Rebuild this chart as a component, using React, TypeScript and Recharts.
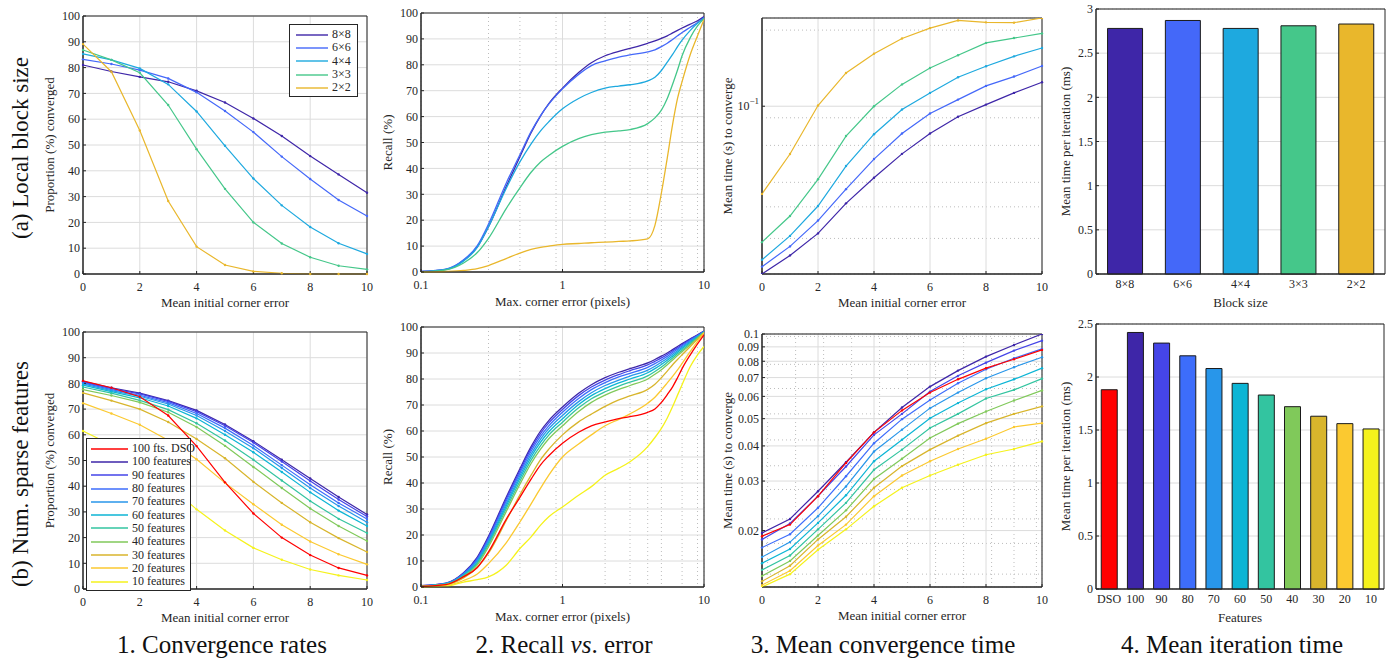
import React from 'react';
import {
  LineChart, Line, BarChart, Bar, Cell, XAxis, YAxis, CartesianGrid, ReferenceArea, Legend,
} from 'recharts';

const FONT = '"Liberation Serif", "Times New Roman", serif';
const INK = '#262626';
const MAJOR = '#dcdcdc';
const MINOR = '#bdbdbd';

// ---------- shared x values ----------
const ERR_X = [0, 1, 2, 3, 4, 5, 6, 7, 8, 9, 10];
const ERR_TICKS = [0, 2, 4, 6, 8, 10];
const RECALL_X = [0.1, 0.15, 0.2, 0.25, 0.3, 0.4, 0.5, 0.6, 0.7, 0.8, 1, 1.3, 1.6, 2, 2.5, 3, 4, 4.5, 5, 5.5, 6, 6.5, 7, 8, 9, 10];
const RECALL_TICKS_X = [0.1, 1, 10];
const RECALL_MINOR_X = [0.2, 0.3, 0.4, 0.5, 0.6, 0.7, 0.8, 0.9, 2, 3, 4, 5, 6, 7, 8, 9];
const PCT_TICKS = [0, 10, 20, 30, 40, 50, 60, 70, 80, 90, 100];

// ---------- (a) block size ----------
const BLOCK_LABELS = ['8×8', '6×6', '4×4', '3×3', '2×2'];
const BLOCK_COLORS = ['#3e26a8', '#4468f9', '#1ea9df', '#45c78a', '#e9b72c'];

const convBlock8 = [81, 78.5, 76.4, 74.5, 71, 66.5, 60.3, 53.5, 45.7, 38.6, 31.5];
const convBlock6 = [83.2, 81.4, 79, 75.8, 70.4, 63.2, 55, 45.5, 36.8, 28.7, 22.5];
const convBlock4 = [85.3, 83, 79.7, 73.5, 63, 49.7, 37, 26.6, 18.2, 11.9, 7.8];
const convBlock3 = [86.8, 83, 78, 65.5, 48.4, 33, 20, 11.8, 6.5, 3.2, 1.8];
const convBlock2 = [89.1, 78.4, 55.6, 28.3, 10.6, 3.5, 1, 0.3, 0, 0, 0];

const recallBlock8 = [0.2, 1, 4.5, 9.7, 17.5, 33, 44.5, 53.8, 60.3, 65, 71, 77, 80.8, 83.5, 85.2, 86.3, 88.3, 89.2, 90.2, 91.2, 92.3, 93.3, 94.2, 95.7, 97, 98.6];
const recallBlock6 = [0.2, 1.1, 4.7, 10.2, 18.5, 34.3, 45.3, 54.2, 60.4, 64.8, 70.7, 76.3, 79.7, 81.5, 83, 83.8, 85, 85.8, 87, 88.3, 89.8, 91.2, 92.5, 94.5, 96.3, 98.3];
const recallBlock4 = [0.1, 1, 4.2, 9.5, 17.5, 32.3, 42.5, 49.5, 54.5, 58, 63, 67, 69.3, 71, 71.8, 72.3, 73.8, 75.2, 77.8, 81, 84, 87, 89.5, 93.3, 96, 98];
const recallBlock3 = [0, 0.8, 3.5, 7.5, 13, 24.5, 32.5, 38.5, 42.5, 45, 48.5, 51.5, 53, 54, 54.5, 55, 57.3, 59.5, 62.5, 67, 72.5, 78, 83.5, 90.5, 95, 97.8];
const recallBlock2 = [0, 0.2, 0.6, 1.3, 2.5, 5.2, 7.3, 8.7, 9.5, 10, 10.7, 11, 11.3, 11.5, 11.8, 12, 12.8, 18, 30.5, 44, 57, 67, 73.5, 84, 91.2, 97.5];

const timeBlock8 = [0.0217, 0.0257, 0.0314, 0.0413, 0.0521, 0.0648, 0.078, 0.0908, 0.1015, 0.1129, 0.1244];
const timeBlock6 = [0.0232, 0.0279, 0.0353, 0.047, 0.0618, 0.078, 0.0936, 0.1062, 0.1203, 0.131, 0.1443];
const timeBlock4 = [0.0247, 0.0307, 0.0403, 0.058, 0.0775, 0.097, 0.1129, 0.1302, 0.1439, 0.1575, 0.1699];
const timeBlock3 = [0.029, 0.0368, 0.0514, 0.0762, 0.1, 0.122, 0.1417, 0.159, 0.178, 0.186, 0.194];
const timeBlock2 = [0.045, 0.0647, 0.1006, 0.1354, 0.1614, 0.1854, 0.2037, 0.2185, 0.2146, 0.214, 0.2233];
const TIME_A_DOMAIN = [0.0217, 0.2233];
const TIME_A_TICKS = [0.1];
const TIME_A_MINOR = [0.03, 0.04, 0.05, 0.06, 0.07, 0.08, 0.09, 0.2];

const iterBlock = [2.78, 2.87, 2.78, 2.81, 2.83];
const ITER_A_TICKS = [0, 0.5, 1, 1.5, 2, 2.5, 3];
const ITER_A_MINOR = [0.1, 0.2, 0.3, 0.4, 0.6, 0.7, 0.8, 0.9, 1.1, 1.2, 1.3, 1.4, 1.6, 1.7, 1.8, 1.9, 2.1, 2.2, 2.3, 2.4, 2.6, 2.7, 2.8, 2.9];

// ---------- (b) number of features ----------
const FEATURE_TICKS = ['DSO', '100', '90', '80', '70', '60', '50', '40', '30', '20', '10'];
const FEATURE_LEGEND = ['100 fts. DSO', '100 features', '90 features', '80 features', '70 features', '60 features', '50 features', '40 features', '30 features', '20 features', '10 features'];
const FEATURE_COLORS = ['#ff0000', '#3e26a8', '#4545e8', '#3d6dfb', '#2896ea', '#0cb5d5', '#33c4a0', '#80c95a', '#d8b52c', '#fbc930', '#f5f21c'];

const convFdso = [81, 78.3, 74.8, 67.5, 55.6, 41.5, 29.4, 20, 13.2, 8.2, 5.3];
const convF100 = [80.8, 78.3, 76.2, 73.3, 69.5, 64, 57.5, 50.3, 43, 35.8, 29];
const convF90 = [80.5, 78, 75.9, 73, 69, 63.5, 57, 49.6, 42, 34.8, 28.2];
const convF80 = [80.2, 77.6, 75.4, 72.5, 68.3, 62.6, 55.8, 48.2, 40.6, 33.5, 27.2];
const convF70 = [79.8, 77.2, 75, 72, 67.5, 61.5, 54.8, 47.1, 39.3, 32.3, 26];
const convF60 = [79.3, 76.8, 74.4, 71.2, 66.4, 60, 53.2, 45.5, 37.6, 30.5, 24.5];
const convF50 = [78.6, 76.2, 73.4, 69.8, 64.5, 57.8, 50.3, 42.2, 34.2, 27.3, 21.8];
const convF40 = [77.6, 75.3, 72.6, 68.8, 63, 55.7, 47.5, 39.3, 31.3, 24.5, 18.7];
const convF30 = [76.3, 73.3, 70, 65, 58.4, 50.9, 41.7, 33.5, 26, 19.8, 14.4];
const convF20 = [72.3, 68.3, 63.9, 57.9, 50.5, 41.3, 33, 25, 18.5, 13.5, 9.6];
const convF10 = [61.5, 56, 49.5, 40.5, 31, 22.8, 16, 11.4, 7.6, 5.3, 3.5];

const recallFdso = [0.2, 0.9, 4, 7.5, 13.5, 26, 34.5, 41.5, 47, 50.5, 55.3, 59.5, 62, 63.5, 64.8, 65.5, 67.2, 68.5, 71, 74, 77, 80.5, 84, 89.3, 93.5, 97];
const recallF100 = [0.5, 1.5, 5.5, 11.5, 19.5, 34.5, 45.5, 54, 60, 64, 69.2, 74.5, 77.8, 80.5, 82.6, 84, 86.2, 87.5, 88.8, 90, 91.3, 92.5, 93.6, 95.5, 97, 98.4];
const recallF90 = [0.5, 1.4, 5.3, 11.1, 19, 33.8, 44.7, 53.2, 59.1, 63.1, 68.3, 73.6, 76.9, 79.6, 81.7, 83.2, 85.4, 86.8, 88.1, 89.4, 90.8, 92, 93.2, 95.2, 96.8, 98.3];
const recallF80 = [0.4, 1.4, 5.1, 10.7, 18.4, 33, 43.8, 52.2, 58, 62, 67.2, 72.5, 75.9, 78.6, 80.8, 82.2, 84.5, 85.9, 87.3, 88.7, 90.2, 91.5, 92.7, 94.9, 96.6, 98.3];
const recallF70 = [0.4, 1.3, 4.8, 10.2, 17.7, 32, 42.8, 51.1, 56.9, 60.9, 66, 71.3, 74.7, 77.5, 79.6, 81.1, 83.4, 84.9, 86.5, 88, 89.5, 90.9, 92.2, 94.5, 96.4, 98.2];
const recallF60 = [0.4, 1.2, 4.6, 9.6, 17, 31.1, 41.8, 50, 55.7, 59.7, 64.7, 70.2, 73.6, 76.3, 78.5, 80, 82.4, 84, 85.6, 87.2, 88.8, 90.3, 91.7, 94.1, 96.2, 98.1];
const recallF50 = [0.3, 1.1, 4.3, 9.1, 16.3, 30.1, 40.7, 48.8, 54.4, 58.4, 63.4, 68.9, 72.4, 75.1, 77.3, 78.8, 81.2, 82.9, 84.6, 86.4, 88.1, 89.7, 91.1, 93.7, 96, 98];
const recallF40 = [0.3, 1, 4, 8.5, 15.5, 29, 39.5, 47.5, 53, 57, 62, 67.5, 71, 73.8, 76, 77.5, 80, 81.8, 83.6, 85.5, 87.3, 89, 90.5, 93.2, 95.7, 97.9];
const recallF30 = [0.2, 0.9, 3.5, 7.5, 13, 25.5, 35.5, 43, 49, 53, 58.5, 63.5, 66.5, 69.5, 72, 73.5, 76, 78, 80.5, 83, 85.5, 87.5, 89.3, 92.5, 95.3, 97.8];
const recallF20 = [0.1, 0.6, 2.5, 5, 9, 17, 25, 32, 38, 43, 50, 55, 58.5, 62, 64.5, 66.6, 70.7, 73, 75.8, 78.5, 81, 83.5, 86, 90.6, 94.5, 97.7];
const recallF10 = [0, 0.3, 1.9, 2.8, 3.9, 8.4, 14.8, 19.3, 23.8, 27, 30.8, 35.3, 38.6, 43, 45.7, 48.2, 54, 57.5, 61, 65, 69.4, 73.8, 77.8, 84.8, 89.3, 92.5];

const timeFdso = [0.0191, 0.021, 0.0265, 0.0348, 0.0447, 0.0535, 0.0619, 0.069, 0.0756, 0.0813, 0.0878];
const timeF100 = [0.0196, 0.022, 0.0276, 0.035, 0.0447, 0.0548, 0.065, 0.0741, 0.0831, 0.0914, 0.1];
const timeF90 = [0.0186, 0.0212, 0.0265, 0.0338, 0.0438, 0.052, 0.0624, 0.071, 0.0791, 0.0873, 0.0947];
const timeF80 = [0.0174, 0.0194, 0.0241, 0.0312, 0.0409, 0.0498, 0.0583, 0.0668, 0.0749, 0.082, 0.0885];
const timeF70 = [0.0161, 0.0182, 0.0225, 0.0287, 0.0382, 0.0457, 0.0545, 0.0619, 0.0696, 0.0762, 0.0827];
const timeF60 = [0.0153, 0.0172, 0.0213, 0.0267, 0.0353, 0.0421, 0.0502, 0.0568, 0.0636, 0.069, 0.0756];
const timeF50 = [0.0145, 0.0163, 0.0202, 0.0251, 0.0329, 0.0388, 0.0463, 0.052, 0.059, 0.0633, 0.0694];
const timeF40 = [0.0138, 0.0156, 0.0192, 0.0236, 0.0305, 0.036, 0.0427, 0.048, 0.053, 0.058, 0.063];
const timeF30 = [0.0132, 0.015, 0.0186, 0.0224, 0.0284, 0.0339, 0.0388, 0.0435, 0.0482, 0.052, 0.0553];
const timeF20 = [0.0128, 0.0144, 0.0177, 0.021, 0.0265, 0.0314, 0.0353, 0.039, 0.0424, 0.0467, 0.0482];
const timeF10 = [0.0126, 0.014, 0.0171, 0.0202, 0.0244, 0.0284, 0.0314, 0.0343, 0.0372, 0.039, 0.0415];
const TIME_B_DOMAIN = [0.0126, 0.1];
const TIME_B_TICKS = [0.02, 0.03, 0.04, 0.05, 0.06, 0.07, 0.08, 0.09, 0.1];
const TIME_B_MINOR = [0.014, 0.016, 0.018, 0.022, 0.024, 0.026, 0.028, 0.032, 0.034, 0.036, 0.038, 0.042, 0.044, 0.046, 0.048, 0.052, 0.054, 0.056, 0.058, 0.062, 0.064, 0.066, 0.068, 0.072, 0.074, 0.076, 0.078, 0.082, 0.084, 0.086, 0.088, 0.092, 0.094, 0.096, 0.098];
const ERR_MINOR_X = [0.2, 0.4, 0.6, 0.8, 1, 1.2, 1.4, 1.6, 1.8, 2.2, 2.4, 2.6, 2.8, 3, 3.2, 3.4, 3.6, 3.8, 4.2, 4.4, 4.6, 4.8, 5, 5.2, 5.4, 5.6, 5.8, 6.2, 6.4, 6.6, 6.8, 7, 7.2, 7.4, 7.6, 7.8, 8.2, 8.4, 8.6, 8.8, 9, 9.2, 9.4, 9.6, 9.8];

const iterFeat = [1.88, 2.42, 2.32, 2.2, 2.08, 1.94, 1.83, 1.72, 1.63, 1.56, 1.51];
const ITER_B_TICKS = [0, 0.5, 1, 1.5, 2, 2.5];
const ITER_B_MINOR = [0.1, 0.2, 0.3, 0.4, 0.6, 0.7, 0.8, 0.9, 1.1, 1.2, 1.3, 1.4, 1.6, 1.7, 1.8, 1.9, 2.1, 2.2, 2.3, 2.4];

// ---------- tables built from the arrays ----------
function table(xs: number[], cols: number[][]) {
  return xs.map((x, i) => {
    const r: any = { x };
    cols.forEach((c, j) => { r['s' + j] = c[i]; });
    return r;
  });
}
const convBlockRows = table(ERR_X, [convBlock8, convBlock6, convBlock4, convBlock3, convBlock2]);
const recallBlockRows = table(RECALL_X, [recallBlock8, recallBlock6, recallBlock4, recallBlock3, recallBlock2]);
const timeBlockRows = table(ERR_X, [timeBlock8, timeBlock6, timeBlock4, timeBlock3, timeBlock2]);
const convFeatRows = table(ERR_X, [convFdso, convF100, convF90, convF80, convF70, convF60, convF50, convF40, convF30, convF20, convF10]);
const recallFeatRows = table(RECALL_X, [recallFdso, recallF100, recallF90, recallF80, recallF70, recallF60, recallF50, recallF40, recallF30, recallF20, recallF10]);
const timeFeatRows = table(ERR_X, [timeFdso, timeF100, timeF90, timeF80, timeF70, timeF60, timeF50, timeF40, timeF30, timeF20, timeF10]);
const iterBlockRows = BLOCK_LABELS.map((name, i) => ({ name, v: iterBlock[i] }));
const iterFeatRows = FEATURE_TICKS.map((name, i) => ({ name, v: iterFeat[i] }));

// draw order for feature lines: 100..10 first, DSO last (on top)
const FEAT_ORDER = [1, 2, 3, 4, 5, 6, 7, 8, 9, 10, 0];
const BLOCK_ORDER = [0, 1, 2, 3, 4];

// ---------- layout ----------
const PAD_L = 70, PAD_T = 10, PAD_R = 14, PAD_B = 45;
type Pos = { left: number; top: number; pw: number; ph: number };
const P1A: Pos = { left: 83, top: 16, pw: 284, ph: 258 };
const P1B: Pos = { left: 83, top: 332, pw: 284, ph: 257 };
const P2A: Pos = { left: 421, top: 13, pw: 283, ph: 259 };
const P2B: Pos = { left: 421, top: 327, pw: 283, ph: 260 };
const P3A: Pos = { left: 762, top: 18, pw: 280, ph: 256 };
const P3B: Pos = { left: 762, top: 334, pw: 280, ph: 253 };
const P4A: Pos = { left: 1096, top: 9, pw: 289, ph: 265 };
const P4B: Pos = { left: 1096, top: 324, pw: 288, ph: 265 };

const dims = (p: Pos) => ({
  width: p.pw + PAD_L + PAD_R,
  height: p.ph + PAD_T + PAD_B,
  margin: { top: PAD_T, right: PAD_R, bottom: 0, left: 0 },
});

const Holder = ({ p, children }: { p: Pos; children: React.ReactNode }) => (
  <div style={{ position: 'absolute', left: p.left - PAD_L, top: p.top - PAD_T, fontFamily: FONT }}>{children}</div>
);

const tickStyle = { fontSize: 12, fill: INK, fontFamily: FONT };
const xCommon: any = { height: PAD_B, stroke: INK, tick: tickStyle, tickSize: -3, tickMargin: 11, interval: 0 };
const yCommon: any = { width: PAD_L, stroke: INK, tick: tickStyle, tickSize: -3, tickMargin: 6, interval: 0 };

const yTitle = (text: string, dist: number) => (props: any) => {
  const vb = props.viewBox || {};
  const cx = vb.x + vb.width - dist;
  const cy = vb.y + vb.height / 2;
  return (
    <text x={cx} y={cy} transform={`rotate(-90 ${cx} ${cy})`} textAnchor="middle" dominantBaseline="central" fontSize={13} fontFamily={FONT} fill={INK}>
      {text}
    </text>
  );
};
const xTitle = (text: string, dist: number) => (props: any) => {
  const vb = props.viewBox || {};
  return (
    <text x={vb.x + vb.width / 2} y={vb.y + dist} textAnchor="middle" dominantBaseline="central" fontSize={13} fontFamily={FONT} fill={INK}>
      {text}
    </text>
  );
};
const powTick = (props: any) => {
  const e = Math.round(Math.log10(props.payload.value));
  return (
    <text x={props.x} y={props.y} textAnchor="end" dominantBaseline="central" fontSize={12} fontFamily={FONT} fill={INK}>
      10<tspan dy={-5} fontSize={9}>{e < 0 ? '\u2212' + -e : String(e)}</tspan>
    </text>
  );
};

const LegendBox = ({ names, colors, width, sampleLeft, sampleLen, gap }: any) => (
  <div style={{ width, border: `1px solid ${INK}`, background: '#fff', padding: '3px 0 2px 0', boxSizing: 'border-box', fontFamily: FONT, fontSize: 12, color: INK }}>
    {names.map((n: string, i: number) => (
      <div key={n} style={{ display: 'flex', alignItems: 'center', height: 13.3, whiteSpace: 'nowrap' }}>
        <svg width={sampleLeft + sampleLen + gap} height={8} style={{ flex: 'none' }}>
          <line x1={sampleLeft} x2={sampleLeft + sampleLen} y1={4} y2={4} stroke={colors[i]} strokeWidth={1.4} />
        </svg>
        <span>{n}</span>
      </div>
    ))}
  </div>
);

const frame = (y0: number, y1: number) => (
  <ReferenceArea y1={y0} y2={y1} fill="none" stroke={INK} strokeWidth={1} ifOverflow="visible" />
);

function lines(order: number[], colors: string[], names: string[], opts: { dots: boolean; smooth: boolean; width: number }) {
  return order.map((j) => (
    <Line
      key={'s' + j}
      dataKey={'s' + j}
      name={names[j]}
      type={opts.smooth ? 'monotone' : 'linear'}
      stroke={colors[j]}
      strokeWidth={opts.width}
      dot={opts.dots ? { r: 1.2, fill: colors[j], stroke: colors[j], strokeWidth: 0 } : false}
      activeDot={false}
      isAnimationActive={false}
    />
  ));
}

function ConvChart({ p, rows, order, colors, names, legend }: any) {
  return (
    <Holder p={p}>
      <LineChart {...dims(p)} data={rows}>
        <CartesianGrid stroke={MAJOR} />
        <XAxis dataKey="x" type="number" domain={[0, 10]} ticks={ERR_TICKS} {...xCommon} label={xTitle('Mean initial corner error', 28)} />
        <YAxis type="number" domain={[0, 100]} ticks={PCT_TICKS} {...yCommon} label={yTitle('Proportion (%) converged', 34)} />
        {frame(0, 100)}
        {lines(order, colors, names, { dots: true, smooth: false, width: 1.2 })}
        <Legend layout="vertical" align="center" verticalAlign="middle" wrapperStyle={legend.style} content={() => legend.node} />
      </LineChart>
    </Holder>
  );
}

function RecallChart({ p, rows, order, colors, names }: any) {
  return (
    <Holder p={p}>
      <LineChart {...dims(p)} data={rows}>
        <XAxis xAxisId="mx" dataKey="x" type="number" scale="log" domain={[0.1, 10]} ticks={RECALL_MINOR_X} allowDataOverflow hide />
        <CartesianGrid xAxisId="mx" horizontal={false} stroke={MINOR} strokeDasharray="1 3" />
        <CartesianGrid stroke={MAJOR} />
        <XAxis dataKey="x" type="number" scale="log" domain={[0.1, 10]} ticks={RECALL_TICKS_X} allowDataOverflow
          tickFormatter={(v: number) => String(v)} {...xCommon} label={xTitle('Max. corner error (pixels)', 29)} />
        <YAxis type="number" domain={[0, 100]} ticks={PCT_TICKS} {...yCommon} label={yTitle('Recall (%)', 34)} />
        {frame(0, 100)}
        {lines(order, colors, names, { dots: false, smooth: true, width: 1.3 })}
      </LineChart>
    </Holder>
  );
}

function TimeChart({ p, rows, order, colors, names, domain, ticks, minor, minorX, pow }: any) {
  return (
    <Holder p={p}>
      <LineChart {...dims(p)} data={rows}>
        <YAxis yAxisId="my" type="number" scale="log" domain={domain} ticks={minor} allowDataOverflow hide />
        <CartesianGrid yAxisId="my" vertical={false} stroke={MINOR} strokeDasharray="1 3" />
        {minorX ? <XAxis xAxisId="mx" dataKey="x" type="number" domain={[0, 10]} ticks={minorX} hide /> : null}
        {minorX ? <CartesianGrid xAxisId="mx" horizontal={false} stroke={MINOR} strokeDasharray="1 3" /> : null}
        <CartesianGrid stroke={MAJOR} />
        <XAxis dataKey="x" type="number" domain={[0, 10]} ticks={ERR_TICKS} {...xCommon} label={xTitle('Mean initial corner error', 28)} />
        <YAxis type="number" scale="log" domain={domain} ticks={ticks} allowDataOverflow {...yCommon}
          tick={pow ? powTick : tickStyle} tickFormatter={(v: number) => String(v)}
          label={yTitle('Mean time (s) to converge', 35)} />
        {frame(domain[0], domain[1])}
        {lines(order, colors, names, { dots: true, smooth: false, width: 1.2 })}
      </LineChart>
    </Holder>
  );
}

function IterChart({ p, rows, colors, max, ticks, minor, xName }: any) {
  return (
    <Holder p={p}>
      <BarChart {...dims(p)} data={rows} barCategoryGap="20%">
        <YAxis yAxisId="my" type="number" domain={[0, max]} ticks={minor} hide />
        <CartesianGrid yAxisId="my" vertical={false} stroke={MINOR} strokeDasharray="1 3" />
        <CartesianGrid vertical={false} stroke={MAJOR} />
        <XAxis dataKey="name" type="category" {...xCommon} tickLine={false} tickMargin={8} label={xTitle(xName, 28)} />
        <YAxis type="number" domain={[0, max]} ticks={ticks} {...yCommon} tickFormatter={(v: number) => String(v)}
          label={yTitle('Mean time per iteration (ms)', 31)} />
        <Bar dataKey="v" stroke="#1a1a1a" strokeWidth={1} isAnimationActive={false}>
          {rows.map((r: any, i: number) => <Cell key={r.name} fill={colors[i]} />)}
        </Bar>
        {frame(0, max)}
      </BarChart>
    </Holder>
  );
}

const Caption = ({ x, y, children }: any) => (
  <div style={{ position: 'absolute', left: x, top: y, transform: 'translate(-50%, -50%)', whiteSpace: 'nowrap', fontSize: 25, color: '#111', fontFamily: FONT }}>
    {children}
  </div>
);
const RowLabel = ({ x, y, children }: any) => (
  <div style={{ position: 'absolute', left: x, top: y, transform: 'translate(-50%, -50%) rotate(-90deg)', whiteSpace: 'nowrap', fontSize: 23, color: '#111', fontFamily: FONT }}>
    {children}
  </div>
);

export default function App() {
  const legendA = {
    style: { left: 276, top: 18, width: 'auto', height: 'auto' },
    node: <LegendBox names={BLOCK_LABELS} colors={BLOCK_COLORS} width={69} sampleLeft={6} sampleLen={32} gap={4} />,
  };
  const legendB = {
    style: { left: 73, top: 116, width: 'auto', height: 'auto' },
    node: <LegendBox names={FEATURE_LEGEND} colors={FEATURE_COLORS} width={105} sampleLeft={4} sampleLen={37} gap={4} />,
  };
  return (
    <div style={{ position: 'absolute', left: 0, top: 0, width: 1389, height: 660, overflow: 'hidden', background: '#fff', fontFamily: FONT }}>
      <ConvChart p={P1A} rows={convBlockRows} order={BLOCK_ORDER} colors={BLOCK_COLORS} names={BLOCK_LABELS} legend={legendA} />
      <ConvChart p={P1B} rows={convFeatRows} order={FEAT_ORDER} colors={FEATURE_COLORS} names={FEATURE_LEGEND} legend={legendB} />
      <RecallChart p={P2A} rows={recallBlockRows} order={BLOCK_ORDER} colors={BLOCK_COLORS} names={BLOCK_LABELS} />
      <RecallChart p={P2B} rows={recallFeatRows} order={FEAT_ORDER} colors={FEATURE_COLORS} names={FEATURE_LEGEND} />
      <TimeChart p={P3A} rows={timeBlockRows} order={BLOCK_ORDER} colors={BLOCK_COLORS} names={BLOCK_LABELS}
        domain={TIME_A_DOMAIN} ticks={TIME_A_TICKS} minor={TIME_A_MINOR} pow />
      <TimeChart p={P3B} rows={timeFeatRows} order={FEAT_ORDER} colors={FEATURE_COLORS} names={FEATURE_LEGEND}
        domain={TIME_B_DOMAIN} ticks={TIME_B_TICKS} minor={TIME_B_MINOR} minorX={ERR_MINOR_X} />
      <IterChart p={P4A} rows={iterBlockRows} colors={BLOCK_COLORS} max={3} ticks={ITER_A_TICKS} minor={ITER_A_MINOR} xName="Block size" />
      <IterChart p={P4B} rows={iterFeatRows} colors={FEATURE_COLORS} max={2.5} ticks={ITER_B_TICKS} minor={ITER_B_MINOR} xName="Features" />

      <RowLabel x={21} y={148}>(a) Local block size</RowLabel>
      <RowLabel x={21} y={474}>(b) Num. sparse features</RowLabel>

      <Caption x={222} y={645}>1. Convergence rates</Caption>
      <Caption x={564} y={645}>2. Recall <i>vs</i>. error</Caption>
      <Caption x={883} y={645}>3. Mean convergence time</Caption>
      <Caption x={1232} y={645}>4. Mean iteration time</Caption>
    </div>
  );
}
